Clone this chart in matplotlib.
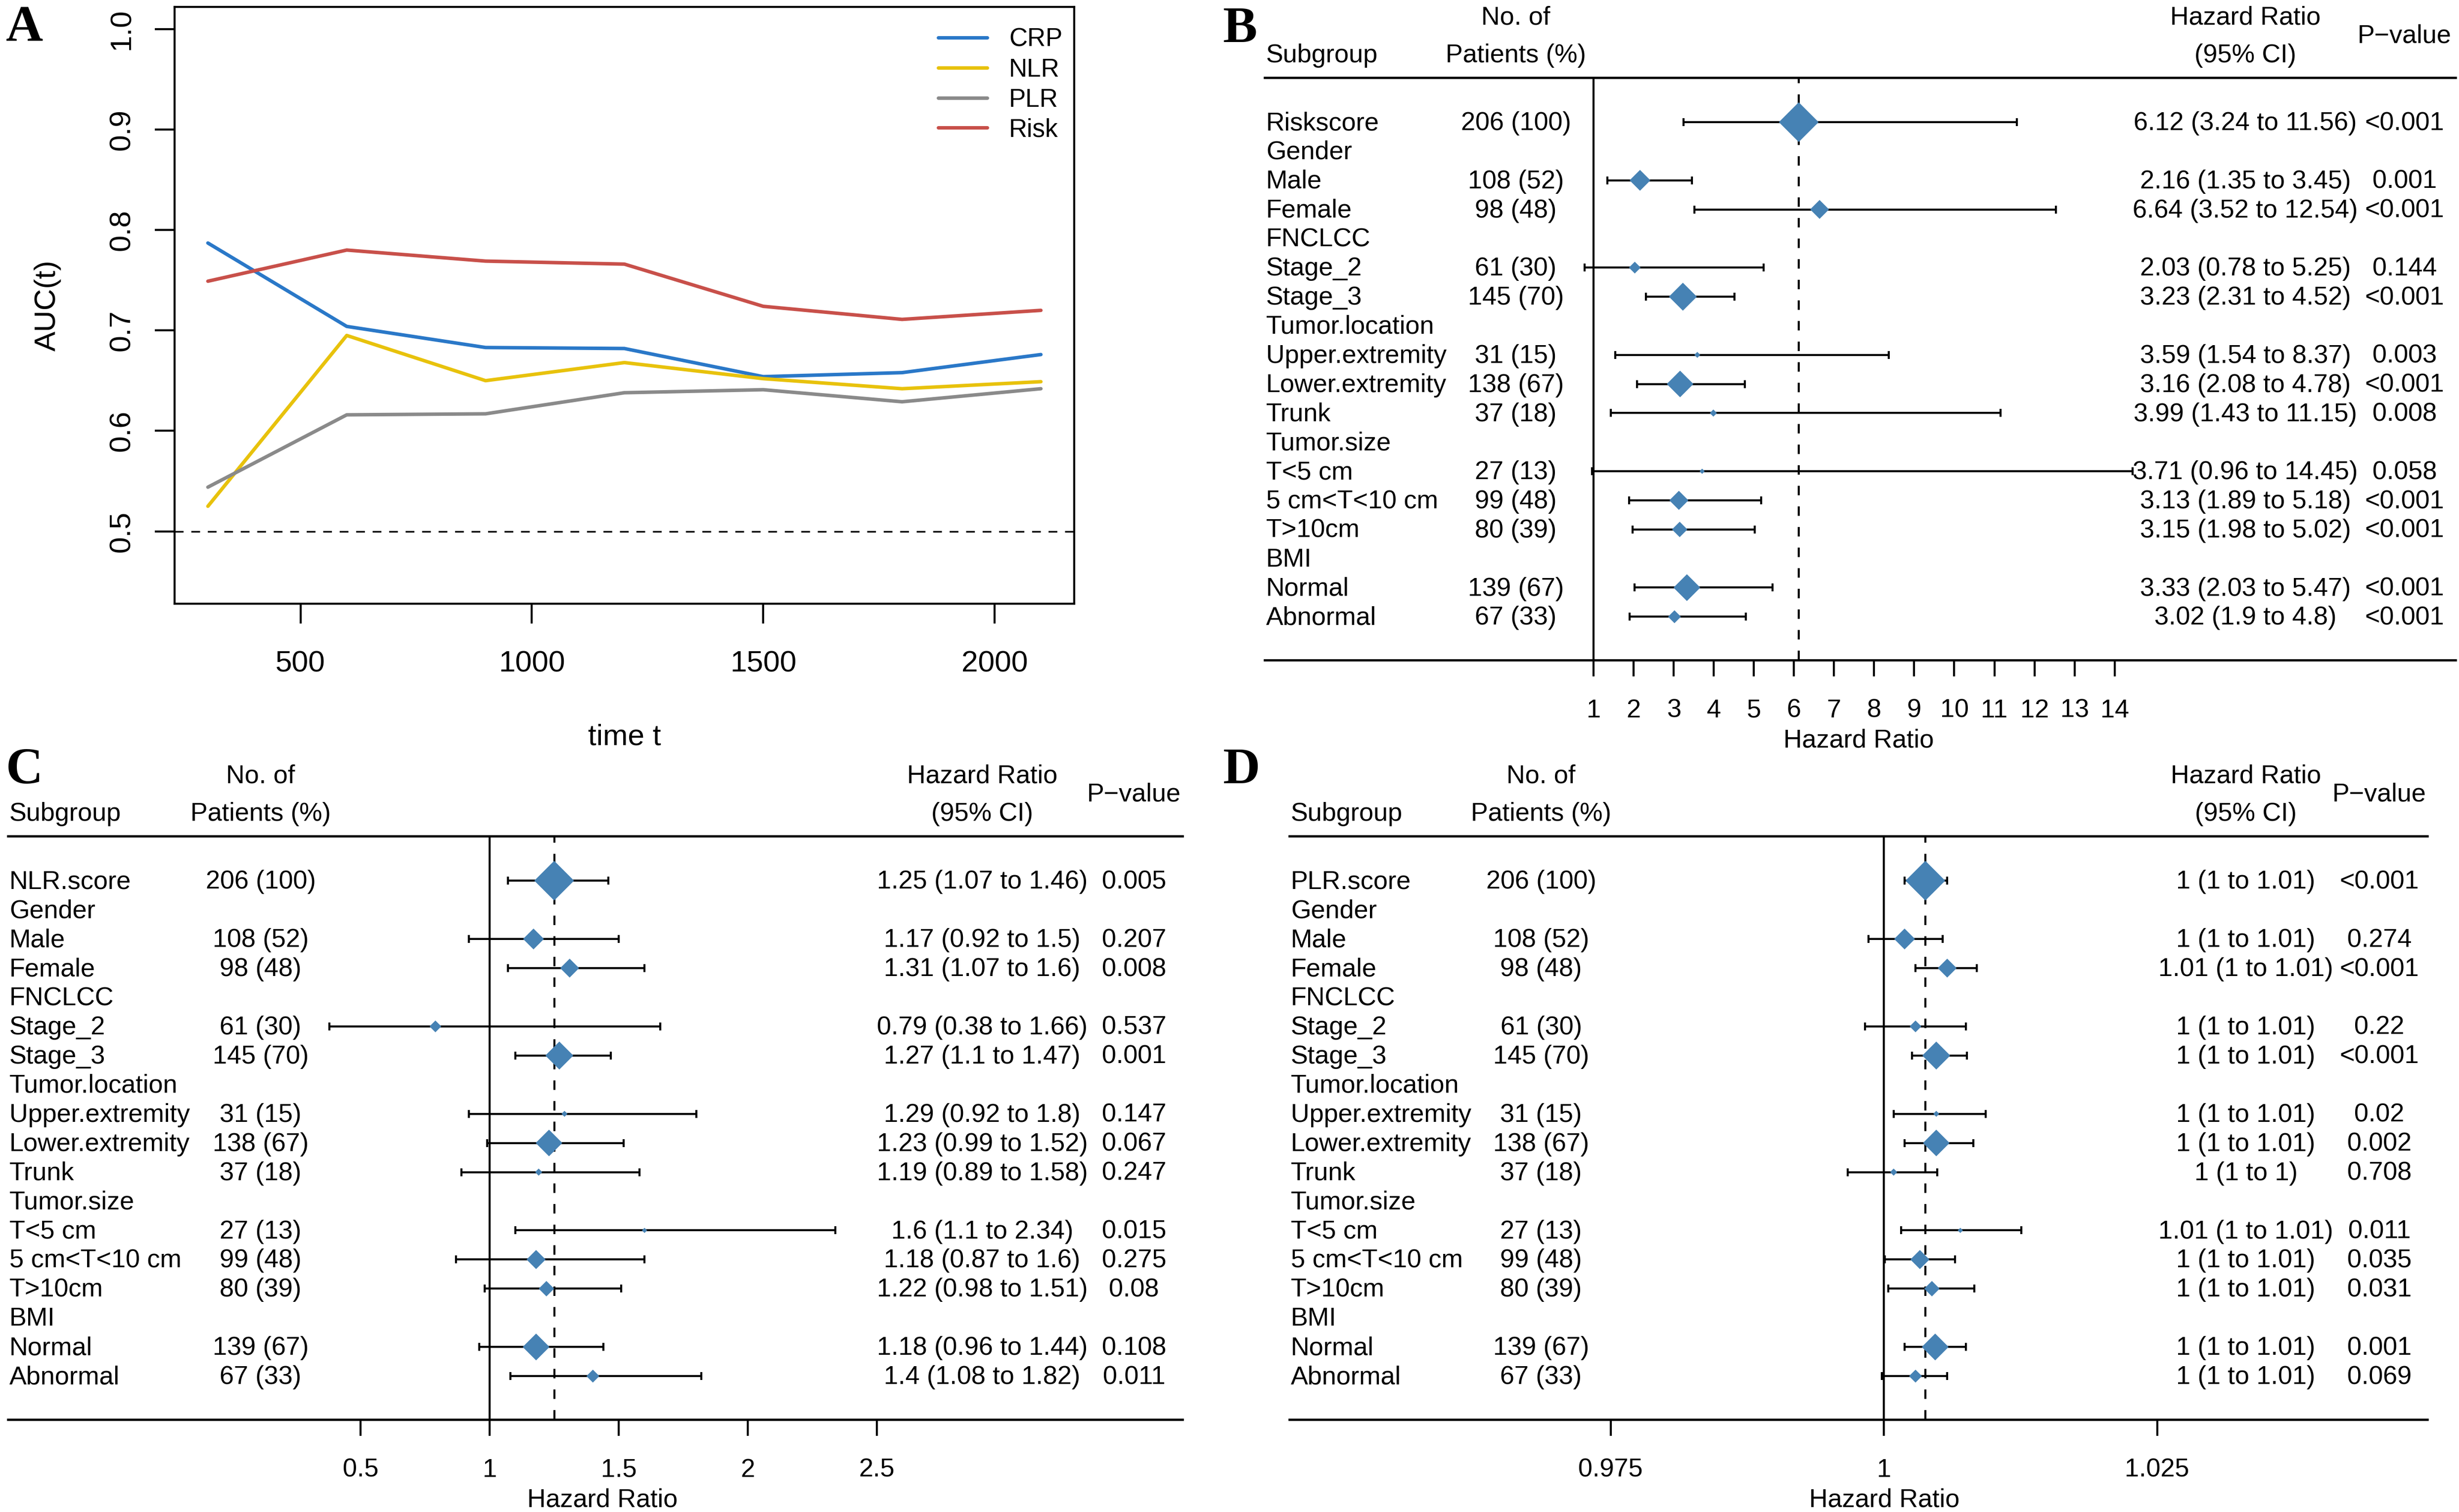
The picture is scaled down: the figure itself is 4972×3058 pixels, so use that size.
import numpy as np
import matplotlib
matplotlib.use("Agg")
import matplotlib.pyplot as plt
from matplotlib import transforms as mtrans

plt.rcParams['font.family'] = ['Liberation Sans', 'DejaVu Sans']

W, H, DPI = 4972, 3058, 300
nan = np.nan

# ---------------- Panel A data ----------------
times = [300, 600, 900, 1200, 1500, 1800, 2100]
auc_crp = [0.787, 0.704, 0.683, 0.682, 0.654, 0.658, 0.676]
auc_nlr = [0.525, 0.695, 0.650, 0.668, 0.652, 0.642, 0.649]
auc_plr = [0.544, 0.616, 0.617, 0.638, 0.641, 0.629, 0.642]
auc_risk = [0.749, 0.780, 0.769, 0.766, 0.724, 0.711, 0.720]
series_names = ['CRP', 'NLR', 'PLR', 'Risk']
series_colors = ['#2A78C8', '#E8C20C', '#8A8A8A', '#C8504A']

# ---------------- Forest data ----------------
subgroups = ['Riskscore', 'Gender', 'Male', 'Female', 'FNCLCC', 'Stage_2', 'Stage_3',
             'Tumor.location', 'Upper.extremity', 'Lower.extremity', 'Trunk',
             'Tumor.size', 'T<5 cm', '5 cm<T<10 cm', 'T>10cm', 'BMI', 'Normal', 'Abnormal']
counts = [206, nan, 108, 98, nan, 61, 145, nan, 31, 138, 37, nan, 27, 99, 80, nan, 139, 67]
percents = [100, nan, 52, 48, nan, 30, 70, nan, 15, 67, 18, nan, 13, 48, 39, nan, 67, 33]

B_hr = [6.12, nan, 2.16, 6.64, nan, 2.03, 3.23, nan, 3.59, 3.16, 3.99, nan, 3.71, 3.13, 3.15, nan, 3.33, 3.02]
B_lo = [3.24, nan, 1.35, 3.52, nan, 0.78, 2.31, nan, 1.54, 2.08, 1.43, nan, 0.96, 1.89, 1.98, nan, 2.03, 1.9]
B_hi = [11.56, nan, 3.45, 12.54, nan, 5.25, 4.52, nan, 8.37, 4.78, 11.15, nan, 14.45, 5.18, 5.02, nan, 5.47, 4.8]
B_p = ['<0.001', '', '0.001', '<0.001', '', '0.144', '<0.001', '', '0.003', '<0.001', '0.008', '',
       '0.058', '<0.001', '<0.001', '', '<0.001', '<0.001']

C_hr = [1.25, nan, 1.17, 1.31, nan, 0.79, 1.27, nan, 1.29, 1.23, 1.19, nan, 1.6, 1.18, 1.22, nan, 1.18, 1.4]
C_lo = [1.07, nan, 0.92, 1.07, nan, 0.38, 1.1, nan, 0.92, 0.99, 0.89, nan, 1.1, 0.87, 0.98, nan, 0.96, 1.08]
C_hi = [1.46, nan, 1.5, 1.6, nan, 1.66, 1.47, nan, 1.8, 1.52, 1.58, nan, 2.34, 1.6, 1.51, nan, 1.44, 1.82]
C_p = ['0.005', '', '0.207', '0.008', '', '0.537', '0.001', '', '0.147', '0.067', '0.247', '',
       '0.015', '0.275', '0.08', '', '0.108', '0.011']

D_hr = [1.0038, nan, 1.0019, 1.0058, nan, 1.0029, 1.0048, nan, 1.0048, 1.0048, 1.0009, nan,
        1.0070, 1.0033, 1.0044, nan, 1.0047, 1.0029]
D_lo = [1.0019, nan, 0.9986, 1.0029, nan, 0.9983, 1.0026, nan, 1.0009, 1.0019, 0.9967, nan,
        1.0016, 1.0001, 1.0004, nan, 1.0019, 0.9998]
D_hi = [1.0058, nan, 1.0054, 1.0085, nan, 1.0075, 1.0076, nan, 1.0093, 1.0082, 1.0049, nan,
        1.0126, 1.0065, 1.0083, nan, 1.0075, 1.0058]
D_p = ['<0.001', '', '0.274', '<0.001', '', '0.22', '<0.001', '', '0.02', '0.002', '0.708', '',
       '0.011', '0.035', '0.031', '', '0.001', '0.069']

B_ticks = list(range(1, 15))
C_ticks = [0.5, 1, 1.5, 2, 2.5]
D_ticks = [0.975, 1, 1.025]

# ---------------------------------------------
fig = plt.figure(figsize=(W / DPI, H / DPI), dpi=DPI)


def fx(px):
    return px / W


def fy(py):
    return 1 - py / H


# ---------------- Panel A ----------------
L, R, T, B = 353, 2172, 14, 1221
axA = fig.add_axes([fx(L), fy(B), (R - L) / W, (B - T) / H])
for name, vals, col in zip(series_names, [auc_crp, auc_nlr, auc_plr, auc_risk], series_colors):
    axA.plot(times, vals, color=col, lw=1.7, solid_capstyle='round', solid_joinstyle='round', label=name)
axA.axhline(0.5, color='black', lw=0.8, dashes=(5.3, 4.7))
axA.set_xlim(228, 2172)
axA.set_ylim(0.428, 1.022)
axA.set_xticks([500, 1000, 1500, 2000])
yt = [0.5, 0.6, 0.7, 0.8, 0.9, 1.0]
axA.set_yticks(yt)
axA.set_yticklabels([f"{v:.1f}" for v in yt], rotation=90, va='center')
axA.tick_params(direction='out', length=9.6, width=1.0, labelsize=14.5)
axA.tick_params(axis='x', pad=13)
axA.tick_params(axis='y', pad=9.4)
for s in axA.spines.values():
    s.set_linewidth(1.0)
axA.set_xlabel('time t', fontsize=14.5)
axA.xaxis.set_label_coords(0.5, -0.2005)
axA.set_ylabel('AUC(t)', fontsize=14.5)
axA.yaxis.set_label_coords(-0.1259, 0.5)
axA.legend(loc='upper left', bbox_to_anchor=(fx(1897), fy(56)), bbox_transform=fig.transFigure,
           frameon=False, fontsize=12.3, handlelength=1.93, handletextpad=0.86,
           labelspacing=0.23, borderpad=0, borderaxespad=0)

# ---------------- Forest panels ----------------
FS = 12.5
DIAMOND = [(0, 1), (1, 0), (0, -1), (-1, 0), (0, 1)]


def fmt(v):
    return f"{round(v, 2):.2f}".rstrip('0').rstrip('.')


def forest(rect, one_px, px_per_unit, ticks, first_label, hr, lo, hi, pv, cols, xlab_px):
    left, right, top, bottom = rect
    ax = fig.add_axes([fx(left), fy(bottom), (right - left) / W, (bottom - top) / H])
    ax.set_xlim(1 - (one_px - left) / px_per_unit, 1 + (right - one_px) / px_per_unit)
    ax.set_ylim(18.49, -1.53)
    for s in ['left', 'right']:
        ax.spines[s].set_visible(False)
    for s in ['top', 'bottom']:
        ax.spines[s].set_linewidth(1.1)
    ax.set_yticks([])
    ax.set_xticks(ticks)
    ax.set_xticklabels([f"{t:g}" for t in ticks])
    ax.tick_params(axis='x', direction='out', length=7.9, width=1.0, pad=10.8, labelsize=FS)
    ax.axvline(1, color='black', lw=1.0, zorder=1)
    hr = np.asarray(hr, float)
    lo = np.asarray(lo, float)
    hi = np.asarray(hi, float)
    n = np.asarray(counts, float)
    rows = np.arange(len(subgroups))
    ax.axvline(hr[0], color='black', lw=1.0, dashes=(4.6, 5.4), zorder=1)
    m = ~np.isnan(hr)
    ax.errorbar(hr[m], rows[m], xerr=[hr[m] - lo[m], hi[m] - hr[m]], fmt='none', ecolor='black',
                elinewidth=1.0, capsize=2.0, capthick=1.0, zorder=2)
    ax.scatter(hr[m], rows[m], s=(0.0936 * n[m]) ** 2, marker=DIAMOND, color='#4682B4',
               linewidths=0, zorder=3)
    ax.set_xlabel('Hazard Ratio', fontsize=FS)
    ax.xaxis.set_label_coords((xlab_px - left) / (right - left), -0.1172)

    tr = mtrans.blended_transform_factory(fig.transFigure, ax.transData)
    tr = mtrans.offset_copy(tr, fig=fig, y=0.7, units='points')
    xs, xn, xh, xp = [fx(c) for c in cols]
    kw = dict(transform=tr, fontsize=FS, va='center_baseline')
    labels = [first_label] + subgroups[1:]
    for i, lab in enumerate(labels):
        ax.text(xs, i, lab, ha='left', **kw)
        if m[i]:
            ax.text(xn, i, f"{int(n[i])} ({int(percents[i])})", ha='center', **kw)
            ax.text(xh, i, f"{fmt(hr[i])} ({fmt(lo[i])} to {fmt(hi[i])})", ha='center', **kw)
            ax.text(xp, i, pv[i], ha='center', **kw)
    ax.text(xs, -2.33, 'Subgroup', ha='left', **kw)
    ax.text(xn, -3.63, 'No. of', ha='center', **kw)
    ax.text(xn, -2.33, 'Patients (%)', ha='center', **kw)
    ax.text(xh, -3.63, 'Hazard Ratio', ha='center', **kw)
    ax.text(xh, -2.33, '(95% CI)', ha='center', **kw)
    ax.text(xp, -3.0, 'P\u2212value', ha='center', **kw)
    return ax


forest((2557, 4965, 157, 1335), 3222, 81.05, B_ticks, 'Riskscore', B_hr, B_lo, B_hi, B_p,
       (2560, 3065, 4540, 4862), 3758)
forest((16, 2391, 1691, 2871), 990, 522.0, C_ticks, 'NLR.score', C_hr, C_lo, C_hi, C_p,
       (19, 527, 1986, 2293), 1218)
forest((2607, 4908, 1691, 2871), 3809, 22100.0, D_ticks, 'PLR.score', D_hr, D_lo, D_hi, D_p,
       (2610, 3116, 4541, 4811), 3810)

# ---------------- Panel letters ----------------
lab_kw = dict(fontsize=25, fontweight='bold', family='Liberation Serif', ha='left', va='baseline')
fig.text(fx(12), fy(83), 'A', **lab_kw)
fig.text(fx(2472), fy(85), 'B', **lab_kw)
fig.text(fx(12), fy(1584), 'C', **lab_kw)
fig.text(fx(2472), fy(1584), 'D', **lab_kw)

fig.savefig('out.png', dpi=DPI)
